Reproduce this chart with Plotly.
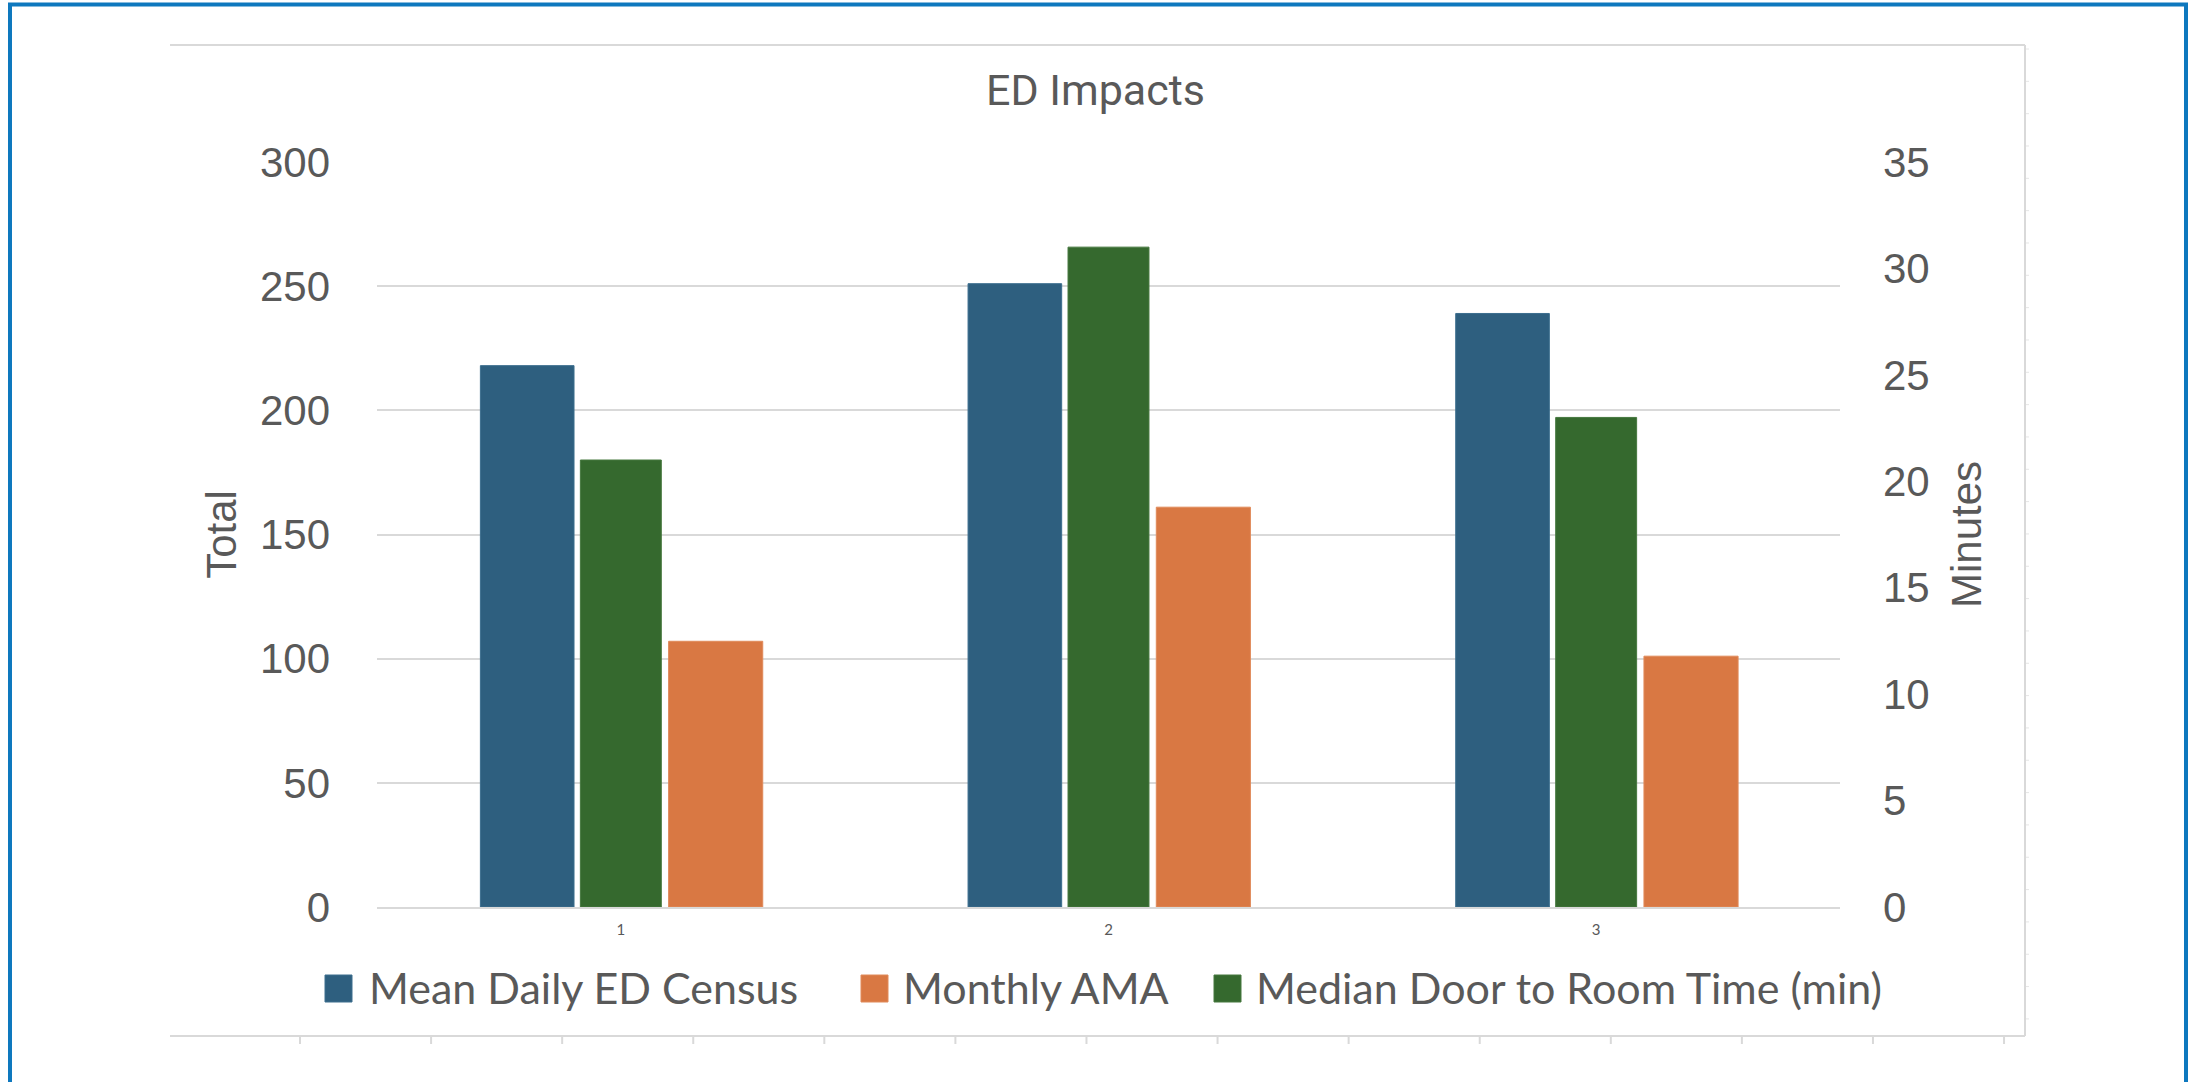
import plotly.graph_objects as go

# ---- data ----
categories = [1, 2, 3]
tick_labels = ["1", "2", "3"]
series_names = ["Mean Daily ED Census", "Monthly AMA", "Median Door to Room Time (min)"]
mean_daily_census = [218, 251, 239]
monthly_ama = [107, 161, 101]
door_to_room_min = [21, 31, 23]

left_ticks = [0, 50, 100, 150, 200, 250, 300]
right_ticks = [0, 5, 10, 15, 20, 25, 30, 35]

# ---- styling ----
BLUE = "#2E5F7F"
ORANGE = "#D97843"
GREEN = "#35692E"
TEXT = "#595959"
GRID = "#D9D9D9"
FRAME_BLUE = "#0E78BE"
TICK_FONT = "Liberation Sans, Arial, sans-serif"
LEGEND_FONT = "Lato, Liberation Sans, sans-serif"

W, H = 2191, 1082
PL, PR, PT, PB = 377, 1840, 162, 907  # plot area edges in pixels


def fx(p):
    return (p - PL) / (PR - PL)


def fy(p):
    return (PB - p) / (PB - PT)


fig = go.Figure()
fig.add_trace(go.Bar(x=categories, y=mean_daily_census, name=series_names[0],
                     marker=dict(color=BLUE, line=dict(color="#3C6E8E", width=1)),
                     offset=-0.288, width=0.192, yaxis="y", showlegend=False))
fig.add_trace(go.Bar(x=categories, y=door_to_room_min, name=series_names[2],
                     marker=dict(color=GREEN, line=dict(color="#46783F", width=1)),
                     offset=-0.083, width=0.166, yaxis="y2", showlegend=False))
fig.add_trace(go.Bar(x=categories, y=monthly_ama, name=series_names[1],
                     marker=dict(color=ORANGE, line=dict(color="#E08A5A", width=1)),
                     offset=0.098, width=0.193, yaxis="y", showlegend=False))

shapes = []
# outer selection frame
shapes.append(dict(type="rect", xref="paper", yref="paper",
                   x0=fx(10), x1=fx(2186), y0=fy(4.5), y1=fy(1110),
                   line=dict(color=FRAME_BLUE, width=4), fillcolor="rgba(0,0,0,0)", layer="above"))
# chart-area border (top, right, bottom)
for x0, y0, x1, y1 in [(170, 45, 2025, 45), (2025, 45, 2025, 1036), (170, 1036, 2025, 1036)]:
    shapes.append(dict(type="line", xref="paper", yref="paper",
                       x0=fx(x0), y0=fy(y0), x1=fx(x1), y1=fy(y1),
                       line=dict(color=GRID, width=2)))
# cell ticks below the border
for k in range(14):
    xp = 300 + 131.08 * k
    shapes.append(dict(type="line", xref="paper", yref="paper",
                       x0=fx(xp), y0=fy(1036), x1=fx(xp), y1=fy(1044),
                       line=dict(color=GRID, width=2)))
# row ticks to the right of the border
for k in range(31):
    yp = 49 + 32.33 * k
    shapes.append(dict(type="line", xref="paper", yref="paper",
                       x0=fx(2026), y0=fy(yp), x1=fx(2029), y1=fy(yp),
                       line=dict(color="#E6E6E6", width=1)))

# legend swatches and labels
legend_items = [
    (series_names[0], BLUE, "#3C6E8E", 325, 367),
    (series_names[1], ORANGE, "#E08A5A", 861, 901),
    (series_names[2], GREEN, "#46783F", 1214, 1254),
]
annotations = []
for name, fill, edge, sx, tx in legend_items:
    shapes.append(dict(type="rect", xref="paper", yref="paper",
                       x0=fx(sx), x1=fx(sx + 27), y0=fy(975), y1=fy(1002),
                       fillcolor=fill, line=dict(color=edge, width=1)))
    annotations.append(dict(xref="paper", yref="paper", x=fx(tx), y=fy(987),
                            xanchor="left", yanchor="middle", showarrow=False,
                            text=name, font=dict(family=LEGEND_FONT, size=43, color=TEXT)))

fig.update_layout(
    width=W, height=H,
    margin=dict(l=PL, r=W - PR, t=PT, b=H - PB, pad=0),
    paper_bgcolor="white", plot_bgcolor="white",
    barmode="overlay",
    showlegend=False,
    title=dict(text="ED Impacts", x=0.5, xref="container", xanchor="center",
               y=1 - 90 / H, yref="container", yanchor="middle",
               font=dict(family="Roboto, sans-serif", size=43, color=TEXT)),
    xaxis=dict(range=[0.5, 3.5], tickmode="array", tickvals=categories, ticktext=tick_labels,
               showgrid=False, zeroline=False, showline=True, linecolor=GRID, linewidth=2,
               ticks="", ticklabelstandoff=8,
               tickfont=dict(family=LEGEND_FONT, size=15, color=TEXT)),
    yaxis=dict(range=[0, 300], tickmode="array", tickvals=left_ticks,
               showgrid=True, gridcolor=GRID, gridwidth=2, zeroline=False, showline=False,
               ticks="", ticklabelstandoff=46,
               tickfont=dict(family=TICK_FONT, size=42, color=TEXT),
               title=dict(text="Total", standoff=10,
                          font=dict(family=TICK_FONT, size=42, color=TEXT))),
    yaxis2=dict(range=[0, 35], tickmode="array", tickvals=right_ticks,
                overlaying="y", side="right",
                showgrid=False, zeroline=False, showline=False,
                ticks="", ticklabelstandoff=42,
                tickfont=dict(family=TICK_FONT, size=42, color=TEXT),
                title=dict(text="Minutes", standoff=22,
                           font=dict(family=TICK_FONT, size=42, color=TEXT))),
    shapes=shapes,
    annotations=annotations,
)

fig.write_html("out.html")
